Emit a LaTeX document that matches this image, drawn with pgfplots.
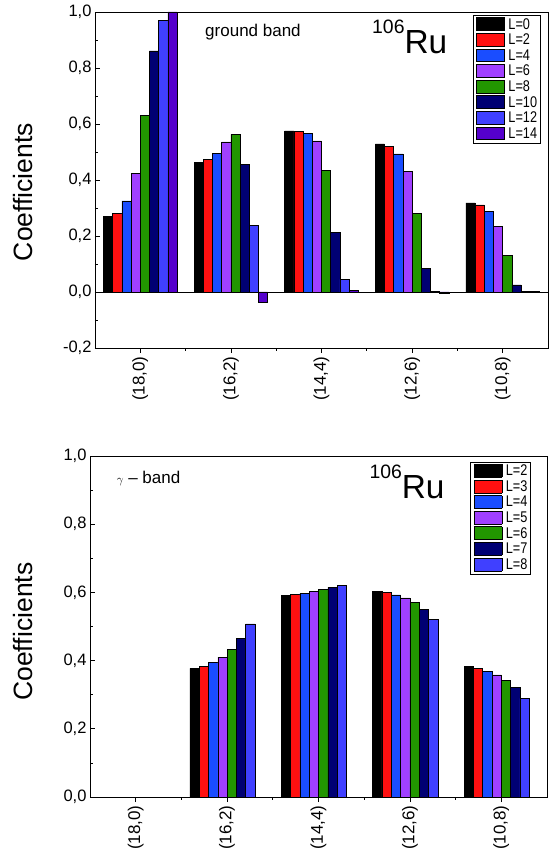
\documentclass[border=0pt]{standalone}
\usepackage{pgfplots}
\pgfplotsset{compat=1.18}
\usepackage{pgfplotstable}
\usepackage{fontspec}
\setmainfont{Liberation Sans}
\newfontfamily\narrowfont[FakeStretch=0.82]{Liberation Sans}

% legend row: swatch + label
\setlength{\fboxsep}{0pt}
\setlength{\fboxrule}{0.5pt}
\newcommand\sw[1]{\raisebox{-1.2pt}{\fcolorbox{black}{#1}{\rule{0pt}{12.4pt}\rule{27.4pt}{0pt}}}}
\newcommand\lrow[2]{\sw{#1} & \rule[-3.4pt]{0pt}{15.6pt}#2\\}

\definecolor{cRed}{RGB}{255,16,16}
\definecolor{cBlue}{RGB}{26,77,255}
\definecolor{cViolet}{RGB}{160,64,255}
\definecolor{cGreen}{RGB}{34,150,0}
\definecolor{cNavy}{RGB}{0,0,115}
\definecolor{cRoyal}{RGB}{64,64,255}
\definecolor{cIndigo}{RGB}{85,0,204}

% ground band: x = configuration index (18,0) ... (10,8)
\pgfplotstableread{
x L0 L2 L4 L6 L8 L10 L12 L14
0 0.269 0.282 0.325 0.424 0.630 0.861 0.970 1.000
1 0.464 0.473 0.495 0.536 0.563 0.456 0.238 -0.036
2 0.575 0.574 0.567 0.540 0.435 0.213 0.045 0.006
3 0.529 0.521 0.493 0.430 0.281 0.085 0.003 -0.005
4 0.318 0.311 0.287 0.235 0.132 0.025 0.001 0.002
}\ground

% gamma band
\pgfplotstableread{
x L2 L3 L4 L5 L6 L7 L8
1 0.377 0.384 0.394 0.410 0.433 0.465 0.508
2 0.592 0.594 0.598 0.602 0.608 0.615 0.621
3 0.603 0.599 0.593 0.584 0.571 0.551 0.521
4 0.382 0.377 0.368 0.358 0.343 0.321 0.289
}\gammaband

\pgfplotsset{
  coef/.style={
    scale only axis,
    ybar=0pt,
    xmin=-0.5, xmax=4.5,
    xtick={0,...,4},
    xticklabels={{(18,0)},{(16,2)},{(14,4)},{(12,6)},{(10,8)}},
    minor xtick={0.5,1.5,2.5,3.5},
    xtick pos=bottom, ytick pos=left,
    xtick align=outside, ytick align=inside,
    major tick length=5pt, minor tick length=3pt,
    minor y tick num=1,
    axis line style={line width=0.8pt},
    every tick/.style={black, line width=0.6pt},
    x tick label style={rotate=90, anchor=east, font=\fontsize{17}{17}\selectfont},
    y tick label style={font=\fontsize{16.5}{17}\selectfont,
      /pgf/number format/fixed, /pgf/number format/fixed zerofill,
      /pgf/number format/precision=1, /pgf/number format/use comma,
      /pgf/number format/assume math mode=true},
    ylabel={Coefficients},
    ylabel style={font=\fontsize{26.5}{27}\selectfont, anchor=base},
    every axis plot/.append style={draw=black, line width=0.5pt},
  },
}
\tikzset{
  legbox/.style={draw=black, line width=0.8pt, fill=white, anchor=north east,
    inner xsep=3.5pt, inner ysep=1.5pt,
    font=\narrowfont\fontsize{15.5}{15.5}\selectfont},
}

\begin{document}
\begin{tikzpicture}
\useasboundingbox (0,0) rectangle (552pt,857pt);
\renewcommand\arraystretch{0}

\begin{axis}[coef,
  at={(95pt,509pt)}, anchor=south west,
  width=453pt, height=336pt,
  ymin=-0.2, ymax=1.0,
  ytick={-0.2,0,0.2,0.4,0.6,0.8,1.0},
  bar width=9.2pt,
  ylabel style={at={(axis description cs:-0.137,0.464)}},
]
\addplot[fill=black] table[x=x, y=L0] {\ground};
\addplot[fill=cRed] table[x=x, y=L2] {\ground};
\addplot[fill=cBlue] table[x=x, y=L4] {\ground};
\addplot[fill=cViolet] table[x=x, y=L6] {\ground};
\addplot[fill=cGreen] table[x=x, y=L8] {\ground};
\addplot[fill=cNavy] table[x=x, y=L10] {\ground};
\addplot[fill=cRoyal] table[x=x, y=L12] {\ground};
\addplot[fill=cIndigo] table[x=x, y=L14] {\ground};
\draw[black, line width=0.6pt] (axis cs:-0.5,0) -- (axis cs:4.5,0);
\node[legbox] at ([xshift=-7pt, yshift=-3pt]rel axis cs:1,1) {%
  \begin{tabular}{@{}l@{\hspace{3.6pt}}l@{}}
  \lrow{black}{L=0}\lrow{cRed}{L=2}\lrow{cBlue}{L=4}\lrow{cViolet}{L=6}
  \lrow{cGreen}{L=8}\lrow{cNavy}{L=10}\lrow{cRoyal}{L=12}\lrow{cIndigo}{L=14}
  \end{tabular}};
\node[anchor=base west, font=\fontsize{17}{17}\selectfont]
  at ([xshift=106.7pt, yshift=-24.7pt]rel axis cs:0,1) {ground band};
\node[anchor=base west, inner sep=0pt]
  at ([xshift=277pt, yshift=-42pt]rel axis cs:0,1)
  {\raisebox{20pt}{\fontsize{19.4}{20}\selectfont 106}\fontsize{33.4}{34}\selectfont Ru};
\end{axis}

\begin{axis}[coef,
  at={(90pt,60pt)}, anchor=south west,
  width=457pt, height=341pt,
  ymin=0, ymax=1.0,
  ytick={0,0.2,0.4,0.6,0.8,1.0},
  bar width=9.3pt,
  ylabel style={at={(axis description cs:-0.125,0.485)}},
]
\addplot[fill=black, bar shift=-32.55pt] table[x=x, y=L2] {\gammaband};
\addplot[fill=cRed, bar shift=-23.25pt] table[x=x, y=L3] {\gammaband};
\addplot[fill=cBlue, bar shift=-13.95pt] table[x=x, y=L4] {\gammaband};
\addplot[fill=cViolet, bar shift=-4.65pt] table[x=x, y=L5] {\gammaband};
\addplot[fill=cGreen, bar shift=4.65pt] table[x=x, y=L6] {\gammaband};
\addplot[fill=cNavy, bar shift=13.95pt] table[x=x, y=L7] {\gammaband};
\addplot[fill=cRoyal, bar shift=23.25pt] table[x=x, y=L8] {\gammaband};
\node[legbox] at ([xshift=-15.7pt, yshift=-5.7pt]rel axis cs:1,1) {%
  \begin{tabular}{@{}l@{\hspace{3.6pt}}l@{}}
  \lrow{black}{L=2}\lrow{cRed}{L=3}\lrow{cBlue}{L=4}\lrow{cViolet}{L=5}
  \lrow{cGreen}{L=6}\lrow{cNavy}{L=7}\lrow{cRoyal}{L=8}
  \end{tabular}};
\node[anchor=base west, font=\fontsize{17}{17}\selectfont]
  at ([xshift=23.3pt, yshift=-28pt]rel axis cs:0,1)
  {{\fontsize{12}{12}\selectfont$\gamma$} -- band};
\node[anchor=base west, inner sep=0pt]
  at ([xshift=279.3pt, yshift=-43pt]rel axis cs:0,1)
  {\raisebox{20pt}{\fontsize{19.4}{20}\selectfont 106}\fontsize{33.4}{34}\selectfont Ru};
\end{axis}
\end{tikzpicture}
\end{document}
